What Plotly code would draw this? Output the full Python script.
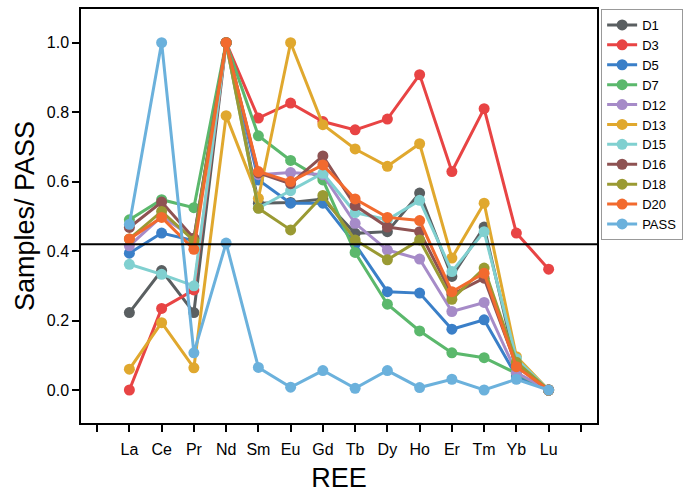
import plotly.graph_objects as go

categories = ["La", "Ce", "Pr", "Nd", "Sm", "Eu", "Gd", "Tb", "Dy", "Ho", "Er", "Tm", "Yb", "Lu"]
x_pos = list(range(1, 15))

D1 = [0.223, 0.344, 0.223, 1.0, 0.538, 0.54, 0.55, 0.451, 0.456, 0.567, 0.327, 0.469, 0.07, 0.0]
D3 = [0.0, 0.235, 0.288, 1.0, 0.783, 0.826, 0.773, 0.749, 0.78, 0.908, 0.629, 0.81, 0.452, 0.348]
D5 = [0.394, 0.452, 0.43, 1.0, 0.605, 0.538, 0.538, 0.42, 0.283, 0.279, 0.175, 0.202, 0.04, 0.0]
D7 = [0.49, 0.548, 0.525, 1.0, 0.732, 0.661, 0.605, 0.396, 0.247, 0.17, 0.107, 0.093, 0.048, 0.0]
D12 = [0.415, 0.50, 0.437, 1.0, 0.62, 0.626, 0.62, 0.48, 0.403, 0.377, 0.226, 0.252, 0.05, 0.0]
D13 = [0.06, 0.194, 0.064, 0.79, 0.552, 1.0, 0.764, 0.694, 0.644, 0.709, 0.38, 0.538, 0.096, 0.0]
D15 = [0.362, 0.333, 0.30, 1.0, 0.524, 0.574, 0.624, 0.511, 0.49, 0.546, 0.341, 0.456, 0.09, 0.0]
D16 = [0.468, 0.541, 0.437, 1.0, 0.625, 0.594, 0.674, 0.531, 0.469, 0.456, 0.275, 0.322, 0.07, 0.0]
D18 = [0.435, 0.514, 0.43, 1.0, 0.523, 0.461, 0.56, 0.432, 0.375, 0.432, 0.261, 0.351, 0.08, 0.0]
D20 = [0.435, 0.497, 0.405, 1.0, 0.629, 0.60, 0.648, 0.55, 0.497, 0.488, 0.283, 0.336, 0.067, 0.0]
PASS = [0.477, 1.0, 0.107, 0.423, 0.065, 0.008, 0.056, 0.005, 0.056, 0.007, 0.031, 0.0, 0.031, 0.0]

series_names = ["D1", "D3", "D5", "D7", "D12", "D13", "D15", "D16", "D18", "D20", "PASS"]
series_values = [D1, D3, D5, D7, D12, D13, D15, D16, D18, D20, PASS]
colors = ["#5a5f61", "#e84444", "#3a7fc8", "#5bb86c", "#a68bc8", "#e0a82e",
          "#80d0d0", "#8e5252", "#9a9a33", "#f26a2e", "#6bb1dc"]

ref_line = 0.42

fig = go.Figure()
for name, vals, c in zip(series_names, series_values, colors):
    fig.add_trace(go.Scatter(
        x=x_pos, y=vals, name=name, mode="lines+markers",
        line=dict(color=c, width=3),
        marker=dict(color=c, size=11),
    ))

fig.add_hline(y=ref_line, line=dict(color="black", width=2))

fig.update_layout(
    width=692, height=493,
    margin=dict(l=81, r=95, t=9, b=70),
    paper_bgcolor="white", plot_bgcolor="white",
    font=dict(family="Liberation Sans, Arial, sans-serif", color="black"),
    showlegend=True,
    legend=dict(
        x=1.008, y=1.0, xanchor="left", yanchor="top",
        bordercolor="#999999", borderwidth=1,
        font=dict(size=13), tracegroupgap=0, itemwidth=30,
    ),
    xaxis=dict(
        range=[-0.5, 15.5],
        automargin=False,
        tickmode="array",
        tickvals=list(range(0, 16)),
        ticktext=[""] + categories + [""],
        ticks="outside", ticklen=7, tickwidth=1.5, tickcolor="black",
        ticklabelstandoff=4,
        showline=True, linecolor="black", linewidth=1.5, mirror=True,
        showgrid=False, zeroline=False,
        tickfont=dict(size=16),
        title=dict(text="REE", font=dict(size=27), standoff=16),
    ),
    yaxis=dict(
        range=[-0.095, 1.097],
        automargin=False,
        tickmode="array",
        tickvals=[0.0, 0.2, 0.4, 0.6, 0.8, 1.0],
        ticktext=["0.0", "0.2", "0.4", "0.6", "0.8", "1.0"],
        ticks="outside", ticklen=7, tickwidth=1.5, tickcolor="black",
        showline=True, linecolor="black", linewidth=1.5, mirror=True,
        showgrid=False, zeroline=False,
        tickfont=dict(size=16),
        title=dict(text="Samples/ PASS", font=dict(size=27), standoff=4),
    ),
)

fig.write_html("out.html")
